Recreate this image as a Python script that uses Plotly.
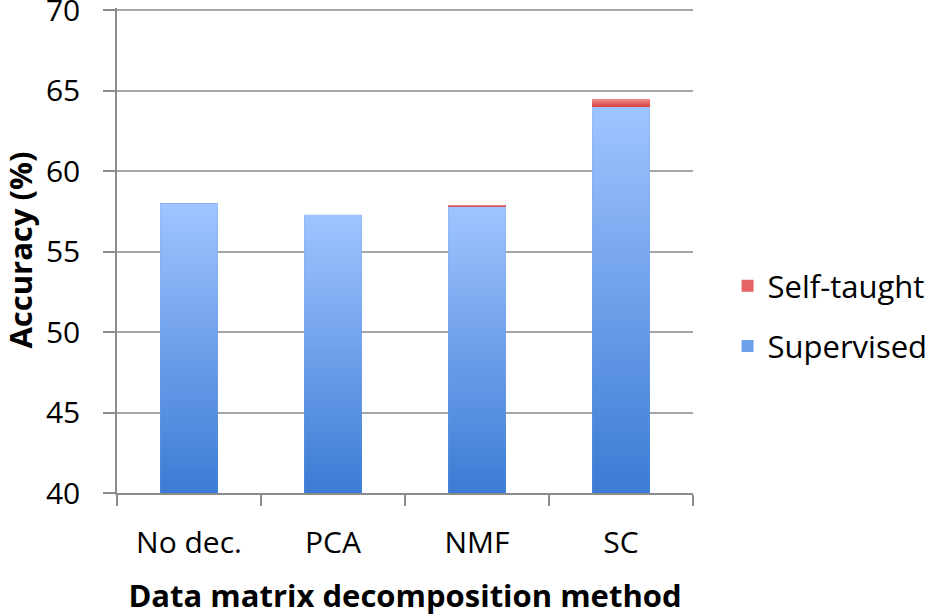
import plotly.graph_objects as go

categories = ["No dec.", "PCA", "NMF", "SC"]
supervised = [58.0, 57.3, 57.8, 64.0]
self_taught = [0.0, 0.0, 0.1, 0.5]
y_ticks = [40, 45, 50, 55, 60, 65, 70]

Y_MIN, Y_MAX = 40, 70.15
BAR_W = 0.4
FONT = "Open Sans"

blue_top, blue_bot = "#A0C4FF", "#3B7BD4"
red_top, red_bot = "#F29090", "#D8403E"

fig = go.Figure()
fig.add_trace(go.Bar(x=categories, y=supervised, name="Supervised",
                     marker=dict(color="#6E9FEA", line=dict(width=0)),
                     width=BAR_W, legendgroup="b", legendrank=2))
fig.add_trace(go.Bar(x=categories, y=self_taught, name="Self-taught",
                     marker=dict(color="#E66463", line=dict(width=0)),
                     width=BAR_W, legendgroup="a", legendrank=1))

# gradient overlays computed from the same data
for i, (s, t) in enumerate(zip(supervised, self_taught)):
    x0, x1 = i - BAR_W / 2, i + BAR_W / 2
    fig.add_trace(go.Scatter(x=[x0, x0, x1, x1, x0], y=[Y_MIN, s, s, Y_MIN, Y_MIN],
                             xaxis="x2", mode="lines", line=dict(width=0),
                             fill="toself", showlegend=False, hoverinfo="skip",
                             fillgradient=dict(type="vertical",
                                               colorscale=[[0, blue_bot], [1, blue_top]])))
    if t > 0:
        fig.add_trace(go.Scatter(x=[x0, x0, x1, x1, x0], y=[s, s + t, s + t, s, s],
                                 xaxis="x2", mode="lines", line=dict(width=0),
                                 fill="toself", showlegend=False, hoverinfo="skip",
                                 fillgradient=dict(type="vertical",
                                                   colorscale=[[0, red_bot], [1, red_top]])))

fig.update_layout(
    width=935, height=616,
    margin=dict(l=117, r=242, t=8, b=123, autoexpand=False),
    plot_bgcolor="white", paper_bgcolor="white",
    barmode="stack",
    font=dict(family=FONT, size=30, color="black"),
    showlegend=True,
    legend=dict(x=1.06, xanchor="left", y=0.365, yanchor="middle",
                traceorder="grouped", tracegroupgap=17,
                font=dict(size=31), itemwidth=30),
    xaxis=dict(type="category", range=[-0.5, 3.5], showgrid=False, automargin=False,
               showline=True, linecolor="#8C8C8C", linewidth=1.5,
               ticks="outside", tickson="boundaries", ticklen=11,
               tickcolor="#8C8C8C", tickwidth=1.5, ticklabelstandoff=22,
               tickfont=dict(size=30),
               title=dict(text="<b>Data matrix decomposition method</b>",
                          font=dict(size=31), standoff=27)),
    xaxis2=dict(overlaying="x", range=[-0.5, 3.5], visible=False),
    yaxis=dict(range=[Y_MIN, Y_MAX], tickvals=y_ticks, showgrid=True, automargin=False,
               gridcolor="#A6A6A6", gridwidth=1.5, ticklabeloverflow="allow",
               showline=True, linecolor="#8C8C8C", linewidth=1.5,
               ticks="outside", ticklen=12, tickcolor="#8C8C8C", tickwidth=1.5,
               ticklabelstandoff=17, tickfont=dict(size=30), zeroline=False),
    annotations=[dict(text="<b>Accuracy (%)</b>", xref="paper", yref="paper",
                      x=-0.17, y=0.5, xanchor="center", yanchor="middle",
                      textangle=-90, showarrow=False, font=dict(size=31))],
)

fig.write_html("out.html", config={"displayModeBar": False},
               post_script="document.body.style.margin='0px';")
